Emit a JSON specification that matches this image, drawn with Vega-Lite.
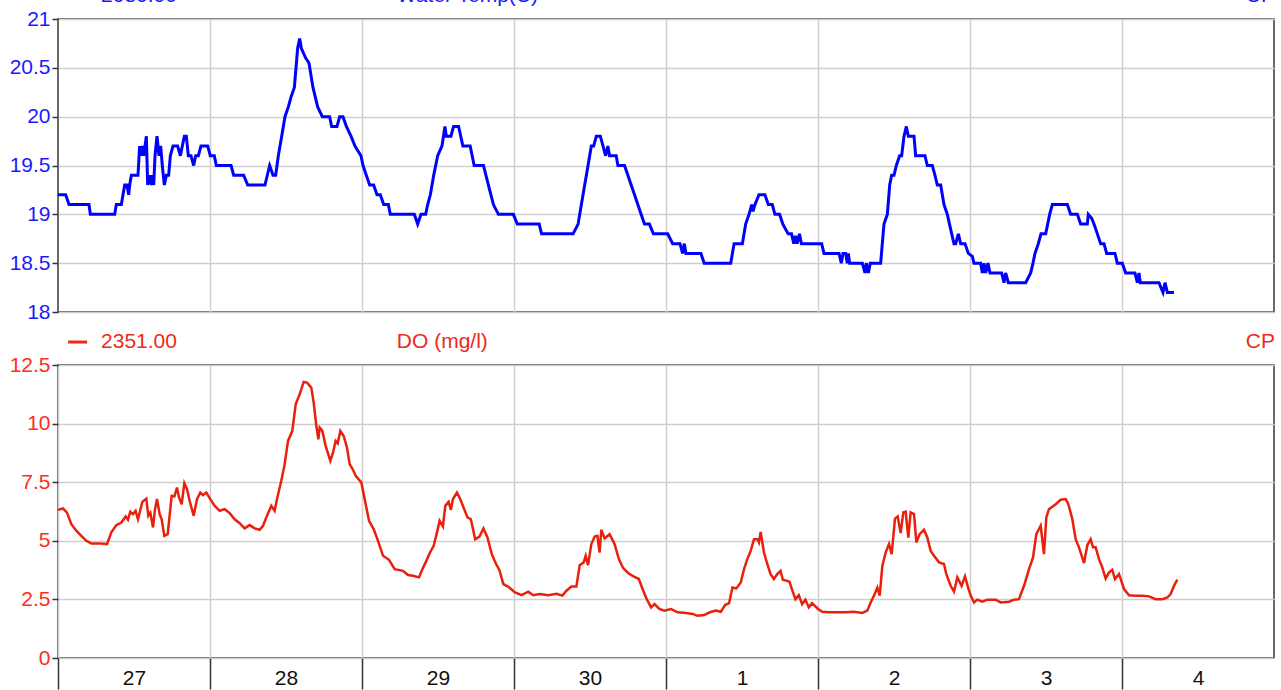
{
  "$schema": "https://vega.github.io/schema/vega-lite/v6.json",
  "padding": {"left": 8, "top": -16, "right": 4, "bottom": 0},
  "bounds": "flush",
  "spacing": 53,
  "background": "white",
  "config": {
    "view": {"stroke": "#3a3a3a", "strokeWidth": 1.5},
    "font": "Liberation Sans",
    "axis": {"labelFont": "Liberation Sans", "labelFontSize": 21, "gridColor": "#cfcfcf", "gridWidth": 1.5, "tickColor": "#333333", "tickWidth": 1.5, "domain": false, "title": null}
  },
  "datasets": {
    "temp": [
      {"hour":0,"value":19.2},{"hour":1.21,"value":19.2},{"hour":1.74,"value":19.1},{"hour":4.89,"value":19.1},{"hour":5.11,"value":19.0},{"hour":8.95,"value":19.0},{"hour":9.21,"value":19.1},{"hour":10.0,"value":19.1},{"hour":10.53,"value":19.3},{"hour":10.89,"value":19.3},{"hour":11.16,"value":19.2},{"hour":11.32,"value":19.3},{"hour":11.58,"value":19.4},{"hour":12.63,"value":19.4},{"hour":12.89,"value":19.7},{"hour":13.11,"value":19.6},{"hour":13.32,"value":19.7},{"hour":13.53,"value":19.6},{"hour":13.95,"value":19.8},{"hour":14.16,"value":19.3},{"hour":14.42,"value":19.4},{"hour":14.74,"value":19.3},{"hour":14.89,"value":19.4},{"hour":15.11,"value":19.3},{"hour":15.32,"value":19.6},{"hour":15.63,"value":19.8},{"hour":15.95,"value":19.6},{"hour":16.21,"value":19.7},{"hour":16.47,"value":19.5},{"hour":16.79,"value":19.3},{"hour":17.11,"value":19.4},{"hour":17.47,"value":19.4},{"hour":17.74,"value":19.6},{"hour":18.16,"value":19.7},{"hour":18.89,"value":19.7},{"hour":19.32,"value":19.6},{"hour":19.63,"value":19.7},{"hour":19.95,"value":19.8},{"hour":20.26,"value":19.8},{"hour":20.58,"value":19.6},{"hour":21.0,"value":19.6},{"hour":21.42,"value":19.5},{"hour":21.74,"value":19.6},{"hour":22.16,"value":19.6},{"hour":22.58,"value":19.7},{"hour":23.63,"value":19.7},{"hour":24.05,"value":19.6},{"hour":24.68,"value":19.6},{"hour":25.0,"value":19.5},{"hour":27.32,"value":19.5},{"hour":27.74,"value":19.4},{"hour":29.32,"value":19.4},{"hour":29.95,"value":19.3},{"hour":32.68,"value":19.3},{"hour":33.42,"value":19.5},{"hour":33.95,"value":19.4},{"hour":34.37,"value":19.4},{"hour":34.79,"value":19.6},{"hour":35.32,"value":19.8},{"hour":35.84,"value":20.0},{"hour":36.37,"value":20.1},{"hour":36.79,"value":20.2},{"hour":37.32,"value":20.3},{"hour":37.84,"value":20.7},{"hour":38.16,"value":20.8},{"hour":38.42,"value":20.7},{"hour":39.11,"value":20.6},{"hour":39.63,"value":20.55},{"hour":40.26,"value":20.3},{"hour":41.0,"value":20.1},{"hour":41.74,"value":20.0},{"hour":42.89,"value":20.0},{"hour":43.21,"value":19.9},{"hour":44.05,"value":19.9},{"hour":44.47,"value":20.0},{"hour":45.0,"value":20.0},{"hour":45.53,"value":19.9},{"hour":46.26,"value":19.8},{"hour":46.89,"value":19.7},{"hour":47.84,"value":19.6},{"hour":48.16,"value":19.5},{"hour":48.68,"value":19.4},{"hour":49.21,"value":19.3},{"hour":49.84,"value":19.3},{"hour":50.37,"value":19.2},{"hour":50.89,"value":19.2},{"hour":51.42,"value":19.1},{"hour":52.16,"value":19.1},{"hour":52.47,"value":19.0},{"hour":56.26,"value":19.0},{"hour":56.79,"value":18.9},{"hour":57.32,"value":19.0},{"hour":58.05,"value":19.0},{"hour":58.37,"value":19.1},{"hour":58.79,"value":19.2},{"hour":59.32,"value":19.4},{"hour":59.95,"value":19.6},
      {"hour":60.63,"value":19.7},{"hour":61.1,"value":19.9},{"hour":61.31,"value":19.8},{"hour":62.04,"value":19.8},{"hour":62.46,"value":19.9},{"hour":63.25,"value":19.9},{"hour":63.93,"value":19.7},{"hour":65.08,"value":19.7},{"hour":65.71,"value":19.5},{"hour":67.18,"value":19.5},{"hour":67.96,"value":19.3},{"hour":68.75,"value":19.1},{"hour":69.54,"value":19.0},{"hour":71.9,"value":19.0},{"hour":72.52,"value":18.9},{"hour":75.98,"value":18.9},{"hour":76.35,"value":18.8},{"hour":81.33,"value":18.8},{"hour":82.12,"value":18.9},{"hour":82.64,"value":19.1},{"hour":83.16,"value":19.3},{"hour":83.69,"value":19.5},{"hour":84.21,"value":19.7},{"hour":84.58,"value":19.7},{"hour":85.0,"value":19.8},{"hour":85.63,"value":19.8},{"hour":86.05,"value":19.7},{"hour":86.47,"value":19.6},{"hour":86.83,"value":19.7},{"hour":87.09,"value":19.6},{"hour":88.14,"value":19.6},{"hour":88.4,"value":19.5},{"hour":89.45,"value":19.5},{"hour":89.98,"value":19.4},{"hour":90.5,"value":19.3},{"hour":91.03,"value":19.2},{"hour":91.55,"value":19.1},{"hour":92.07,"value":19.0},{"hour":92.6,"value":18.9},{"hour":93.38,"value":18.9},{"hour":94.01,"value":18.8},{"hour":96.27,"value":18.8},{"hour":97.05,"value":18.7},{"hour":98.21,"value":18.7},{"hour":98.62,"value":18.6},{"hour":98.89,"value":18.7},{"hour":99.15,"value":18.6},{"hour":101.51,"value":18.6},{"hour":102.03,"value":18.5},{"hour":106.22,"value":18.5},{"hour":106.75,"value":18.7},{"hour":108.06,"value":18.7},{"hour":108.58,"value":18.9},{"hour":109.11,"value":19.0},{"hour":109.53,"value":19.1},{"hour":109.74,"value":19.03},{"hour":110.05,"value":19.1},{"hour":110.68,"value":19.2},{"hour":111.62,"value":19.2},{"hour":112.15,"value":19.1},{"hour":112.78,"value":19.1},{"hour":113.2,"value":19.0},{"hour":113.93,"value":19.0},{"hour":114.45,"value":18.9},{"hour":115.29,"value":18.8},{"hour":115.82,"value":18.8},{"hour":116.18,"value":18.7},{"hour":116.44,"value":18.78},{"hour":116.71,"value":18.7},{"hour":117.07,"value":18.8},{"hour":117.39,"value":18.7},{"hour":120.11,"value":18.7},
      {"hour":120.58,"value":18.7},{"hour":120.95,"value":18.6},{"hour":123.32,"value":18.6},{"hour":123.68,"value":18.5},{"hour":123.95,"value":18.6},{"hour":124.37,"value":18.6},{"hour":124.63,"value":18.5},{"hour":124.79,"value":18.6},{"hour":125.0,"value":18.5},{"hour":127.0,"value":18.5},{"hour":127.42,"value":18.4},{"hour":127.63,"value":18.5},{"hour":127.95,"value":18.4},{"hour":128.26,"value":18.5},{"hour":129.89,"value":18.5},{"hour":130.42,"value":18.9},{"hour":130.95,"value":19.0},{"hour":131.32,"value":19.3},{"hour":131.63,"value":19.4},{"hour":132.0,"value":19.4},{"hour":132.37,"value":19.5},{"hour":132.89,"value":19.6},{"hour":133.21,"value":19.6},{"hour":133.58,"value":19.8},{"hour":133.95,"value":19.9},{"hour":134.26,"value":19.8},{"hour":135.16,"value":19.8},{"hour":135.42,"value":19.6},{"hour":136.89,"value":19.6},{"hour":137.26,"value":19.5},{"hour":138.05,"value":19.5},{"hour":138.47,"value":19.4},{"hour":138.84,"value":19.3},{"hour":139.37,"value":19.3},{"hour":139.89,"value":19.1},{"hour":140.42,"value":19.0},{"hour":141.11,"value":18.8},{"hour":141.47,"value":18.7},{"hour":141.74,"value":18.7},{"hour":142.16,"value":18.8},{"hour":142.53,"value":18.7},{"hour":143.21,"value":18.7},{"hour":143.74,"value":18.6},{"hour":144.37,"value":18.57},{"hour":144.63,"value":18.5},{"hour":145.68,"value":18.5},{"hour":145.95,"value":18.4},{"hour":146.21,"value":18.5},{"hour":146.47,"value":18.4},{"hour":146.84,"value":18.5},{"hour":147.16,"value":18.4},{"hour":149.0,"value":18.4},{"hour":149.37,"value":18.3},{"hour":149.63,"value":18.4},{"hour":150.05,"value":18.3},{"hour":152.79,"value":18.3},{"hour":153.58,"value":18.4},{"hour":153.95,"value":18.5},{"hour":154.26,"value":18.6},{"hour":154.79,"value":18.7},{"hour":155.21,"value":18.8},{"hour":155.95,"value":18.8},{"hour":156.58,"value":19.0},{"hour":157.0,"value":19.1},{"hour":159.37,"value":19.1},{"hour":159.89,"value":19.0},{"hour":160.95,"value":19.0},{"hour":161.47,"value":18.9},{"hour":162.53,"value":18.9},{"hour":162.68,"value":19.0},{"hour":163.21,"value":18.96},{"hour":163.58,"value":18.9},{"hour":164.11,"value":18.8},{"hour":164.63,"value":18.7},{"hour":165.16,"value":18.7},{"hour":165.58,"value":18.6},{"hour":166.89,"value":18.6},{"hour":167.26,"value":18.5},{"hour":168.05,"value":18.5},{"hour":168.58,"value":18.4},{"hour":170.05,"value":18.4},{"hour":170.42,"value":18.3},{"hour":170.68,"value":18.4},{"hour":170.89,"value":18.3},{"hour":173.84,"value":18.3},{"hour":174.47,"value":18.2},{"hour":174.79,"value":18.3},{"hour":175.16,"value":18.2},{"hour":176.21,"value":18.2}
    ],
    "do": [
      {"hour":0,"value":6.32},{"hour":0.79,"value":6.38},{"hour":1.42,"value":6.2},{"hour":2.11,"value":5.71},{"hour":2.89,"value":5.43},{"hour":3.68,"value":5.21},{"hour":4.47,"value":5.0},{"hour":5.26,"value":4.89},{"hour":6.58,"value":4.89},{"hour":7.74,"value":4.86},{"hour":8.42,"value":5.36},{"hour":9.21,"value":5.67},{"hour":10.0,"value":5.78},{"hour":10.68,"value":6.04},{"hour":11.05,"value":5.9},{"hour":11.42,"value":6.24},{"hour":11.84,"value":6.14},{"hour":12.26,"value":6.28},{"hour":12.63,"value":5.92},{"hour":13.32,"value":6.66},{"hour":13.95,"value":6.8},{"hour":14.26,"value":6.07},{"hour":14.58,"value":6.2},{"hour":15.0,"value":5.57},{"hour":15.32,"value":6.35},{"hour":15.63,"value":6.78},{"hour":16.05,"value":6.14},{"hour":16.37,"value":5.92},{"hour":16.79,"value":5.21},{"hour":17.32,"value":5.28},{"hour":17.95,"value":6.92},{"hour":18.37,"value":6.89},{"hour":18.79,"value":7.27},{"hour":19.11,"value":6.85},{"hour":19.53,"value":6.56},{"hour":19.95,"value":7.46},{"hour":20.37,"value":7.2},{"hour":20.79,"value":6.7},{"hour":21.42,"value":6.07},{"hour":21.95,"value":6.78},{"hour":22.47,"value":7.06},{"hour":22.89,"value":6.95},{"hour":23.42,"value":7.06},{"hour":24.05,"value":6.78},{"hour":24.74,"value":6.49},{"hour":25.53,"value":6.28},{"hour":26.32,"value":6.35},{"hour":27.11,"value":6.18},{"hour":27.89,"value":5.92},{"hour":28.68,"value":5.75},{"hour":29.47,"value":5.53},{"hour":30.26,"value":5.67},{"hour":31.05,"value":5.53},{"hour":31.84,"value":5.47},{"hour":32.37,"value":5.64},{"hour":32.89,"value":6.0},{"hour":33.68,"value":6.49},{"hour":34.21,"value":6.28},{"hour":34.58,"value":6.78},{"hour":35.26,"value":7.56},{"hour":35.79,"value":8.27},{"hour":36.32,"value":9.26},{"hour":37.0,"value":9.69},{"hour":37.53,"value":10.82},{"hour":38.16,"value":11.25},{"hour":38.79,"value":11.78},{"hour":39.32,"value":11.75},{"hour":40.0,"value":11.53},{"hour":40.37,"value":10.9},{"hour":40.79,"value":9.9},{"hour":41.11,"value":9.33},{"hour":41.32,"value":9.83},{"hour":41.74,"value":9.69},{"hour":42.26,"value":9.05},{"hour":43.0,"value":8.41},{"hour":43.42,"value":8.76},{"hour":43.84,"value":9.26},{"hour":44.16,"value":9.16},{"hour":44.58,"value":9.69},{"hour":45.11,"value":9.47},{"hour":45.63,"value":8.98},{"hour":46.05,"value":8.27},{"hour":46.58,"value":8.03},{"hour":47.0,"value":7.77},{"hour":47.89,"value":7.49},{"hour":48.42,"value":6.78},{"hour":49.11,"value":5.85},{"hour":49.84,"value":5.5},{"hour":50.53,"value":5.0},{"hour":51.32,"value":4.36},{"hour":52.26,"value":4.19},{"hour":53.16,"value":3.79},{"hour":54.47,"value":3.72},{"hour":55.26,"value":3.54},{"hour":56.05,"value":3.51},{"hour":57.0,"value":3.44},{"hour":57.53,"value":3.79},{"hour":58.05,"value":4.08},{"hour":58.68,"value":4.47},{"hour":59.32,"value":4.79},{"hour":59.84,"value":5.36},{"hour":60.26,"value":5.85},
      {"hour":60.78,"value":5.61},{"hour":61.15,"value":6.49},{"hour":61.67,"value":6.66},{"hour":62.04,"value":6.32},{"hour":62.36,"value":6.78},{"hour":62.99,"value":7.06},{"hour":63.51,"value":6.78},{"hour":64.03,"value":6.42},{"hour":64.66,"value":6.0},{"hour":65.19,"value":5.92},{"hour":65.87,"value":5.07},{"hour":66.55,"value":5.18},{"hour":67.18,"value":5.53},{"hour":67.81,"value":5.14},{"hour":68.49,"value":4.43},{"hour":69.17,"value":4.01},{"hour":69.69,"value":3.76},{"hour":70.32,"value":3.15},{"hour":71.27,"value":3.01},{"hour":72.16,"value":2.8},{"hour":73.21,"value":2.68},{"hour":74.25,"value":2.83},{"hour":75.04,"value":2.68},{"hour":76.09,"value":2.73},{"hour":77.4,"value":2.68},{"hour":78.71,"value":2.74},{"hour":79.65,"value":2.66},{"hour":80.28,"value":2.87},{"hour":81.07,"value":3.05},{"hour":81.85,"value":3.05},{"hour":82.38,"value":3.96},{"hour":83.01,"value":4.08},{"hour":83.32,"value":4.36},{"hour":83.69,"value":3.96},{"hour":84.21,"value":4.86},{"hour":84.74,"value":5.18},{"hour":85.16,"value":5.21},{"hour":85.52,"value":4.5},{"hour":85.78,"value":5.47},{"hour":86.31,"value":5.1},{"hour":87.09,"value":5.28},{"hour":87.88,"value":4.86},{"hour":88.56,"value":4.22},{"hour":89.19,"value":3.86},{"hour":89.82,"value":3.68},{"hour":90.24,"value":3.58},{"hour":90.87,"value":3.48},{"hour":91.71,"value":3.37},{"hour":92.34,"value":2.91},{"hour":92.96,"value":2.51},{"hour":93.65,"value":2.16},{"hour":94.17,"value":2.3},{"hour":94.96,"value":2.09},{"hour":95.74,"value":2.02},{"hour":96.79,"value":2.09},{"hour":97.84,"value":1.95},{"hour":99.15,"value":1.92},{"hour":100.2,"value":1.88},{"hour":100.98,"value":1.8},{"hour":102.03,"value":1.83},{"hour":102.92,"value":1.95},{"hour":103.87,"value":2.02},{"hour":104.65,"value":1.97},{"hour":105.33,"value":2.26},{"hour":105.96,"value":2.34},{"hour":106.49,"value":3.01},{"hour":107.11,"value":2.97},{"hour":107.8,"value":3.22},{"hour":108.32,"value":3.79},{"hour":108.84,"value":4.22},{"hour":109.37,"value":4.57},{"hour":109.89,"value":5.07},{"hour":110.42,"value":5.07},{"hour":110.68,"value":4.93},{"hour":110.94,"value":5.38},{"hour":111.47,"value":4.5},{"hour":111.99,"value":4.01},{"hour":112.51,"value":3.58},{"hour":113.04,"value":3.37},{"hour":113.56,"value":3.58},{"hour":114.09,"value":3.72},{"hour":114.45,"value":3.34},{"hour":114.98,"value":3.3},{"hour":115.5,"value":3.25},{"hour":115.92,"value":2.91},{"hour":116.44,"value":2.51},{"hour":116.97,"value":2.68},{"hour":117.49,"value":2.3},{"hour":118.02,"value":2.49},{"hour":118.54,"value":2.16},{"hour":119.06,"value":2.34},{"hour":120.01,"value":2.09},
      {"hour":120.68,"value":1.97},{"hour":121.74,"value":1.95},{"hour":123.32,"value":1.95},{"hour":124.37,"value":1.95},{"hour":125.68,"value":1.97},{"hour":127.0,"value":1.92},{"hour":127.79,"value":2.02},{"hour":128.32,"value":2.37},{"hour":128.84,"value":2.66},{"hour":129.37,"value":3.01},{"hour":129.74,"value":2.66},{"hour":130.16,"value":3.93},{"hour":130.68,"value":4.5},{"hour":131.21,"value":4.86},{"hour":131.63,"value":4.43},{"hour":132.16,"value":5.95},{"hour":132.58,"value":6.04},{"hour":133.05,"value":5.33},{"hour":133.47,"value":6.21},{"hour":133.84,"value":6.24},{"hour":134.26,"value":5.14},{"hour":134.63,"value":6.21},{"hour":135.16,"value":6.14},{"hour":135.53,"value":4.93},{"hour":136.05,"value":5.28},{"hour":136.74,"value":5.47},{"hour":137.26,"value":5.14},{"hour":137.79,"value":4.57},{"hour":138.32,"value":4.36},{"hour":139.11,"value":4.08},{"hour":139.89,"value":4.01},{"hour":140.26,"value":3.58},{"hour":140.95,"value":3.08},{"hour":141.47,"value":2.83},{"hour":142.0,"value":3.44},{"hour":142.68,"value":3.08},{"hour":143.21,"value":3.48},{"hour":143.74,"value":2.97},{"hour":144.11,"value":2.66},{"hour":144.63,"value":2.37},{"hour":145.16,"value":2.49},{"hour":145.95,"value":2.4},{"hour":146.74,"value":2.49},{"hour":148.05,"value":2.49},{"hour":148.84,"value":2.37},{"hour":150.16,"value":2.4},{"hour":150.95,"value":2.49},{"hour":151.74,"value":2.51},{"hour":152.53,"value":3.08},{"hour":153.32,"value":3.79},{"hour":153.95,"value":4.29},{"hour":154.47,"value":5.28},{"hour":155.16,"value":5.64},{"hour":155.68,"value":4.43},{"hour":156.05,"value":6.0},{"hour":156.47,"value":6.35},{"hour":157.53,"value":6.56},{"hour":158.32,"value":6.75},{"hour":159.11,"value":6.78},{"hour":159.53,"value":6.56},{"hour":160.16,"value":5.92},{"hour":160.68,"value":5.07},{"hour":161.21,"value":4.72},{"hour":162.0,"value":4.05},{"hour":162.53,"value":4.82},{"hour":163.05,"value":5.07},{"hour":163.42,"value":4.72},{"hour":163.84,"value":4.72},{"hour":164.37,"value":4.22},{"hour":164.89,"value":3.86},{"hour":165.42,"value":3.39},{"hour":165.95,"value":3.65},{"hour":166.47,"value":3.76},{"hour":166.89,"value":3.37},{"hour":167.53,"value":3.58},{"hour":168.32,"value":2.94},{"hour":169.11,"value":2.68},{"hour":170.16,"value":2.66},{"hour":171.21,"value":2.66},{"hour":172.26,"value":2.63},{"hour":173.32,"value":2.51},{"hour":174.37,"value":2.51},{"hour":175.16,"value":2.58},{"hour":175.68,"value":2.73},{"hour":176.21,"value":3.08},{"hour":176.74,"value":3.34}
    ]
  },
  "vconcat": [
    {
      "width": 1216,
      "height": 293,
      "layer": [
        {
          "data": {"name": "temp"},
          "mark": {"type": "line", "color": "#0000ff", "strokeWidth": 3},
          "encoding": {
            "x": {"field": "hour", "type": "quantitative", "scale": {"domain": [0, 192], "nice": false, "zero": false},
                  "axis": {"values": [24, 48, 72, 96, 120, 144, 168], "labels": false, "ticks": false, "grid": true}},
            "y": {"field": "value", "type": "quantitative", "scale": {"domain": [18, 21], "nice": false, "zero": false},
                  "axis": {"values": [18, 18.5, 19, 19.5, 20, 20.5, 21], "format": ".1~f", "labelColor": "#1a1aff", "tickSize": 6, "labelPadding": 2, "grid": true}}
          }
        },
        {
          "data": {"values": [{}]},
          "mark": {"type": "rule", "color": "#1a1aff", "strokeWidth": 3},
          "encoding": {"x": {"datum": 1.6}, "x2": {"datum": 4.6}, "y": {"datum": 21.235}}
        },
        {
          "data": {"values": [{}]},
          "mark": {"type": "text", "text": "2080.00", "align": "left", "baseline": "middle", "fontSize": 21, "color": "#1a1aff"},
          "encoding": {"x": {"datum": 6.8}, "y": {"datum": 21.235}}
        },
        {
          "data": {"values": [{}]},
          "mark": {"type": "text", "text": "Water Temp(C)", "align": "left", "baseline": "middle", "fontSize": 21, "color": "#1a1aff"},
          "encoding": {"x": {"datum": 53.5}, "y": {"datum": 21.235}}
        },
        {
          "data": {"values": [{}]},
          "mark": {"type": "text", "text": "CP", "align": "right", "baseline": "middle", "fontSize": 21, "color": "#1a1aff", "dx": 1},
          "encoding": {"x": {"datum": 192}, "y": {"datum": 21.235}}
        }
      ]
    },
    {
      "width": 1216,
      "height": 293,
      "layer": [
        {
          "data": {"name": "do"},
          "mark": {"type": "line", "color": "#e8200c", "strokeWidth": 2.5},
          "encoding": {
            "x": {"field": "hour", "type": "quantitative", "scale": {"domain": [0, 192], "nice": false, "zero": false},
                  "axis": {"values": [0, 24, 48, 72, 96, 120, 144, 168], "grid": true, "tickSize": 31, "labelPadding": -22, "labelOffset": 76, "labelColor": "#111111", "labelAlign": "center",
                           "labelExpr": "['27','28','29','30','1','2','3','4'][round(datum.value/24)]"}},
            "y": {"field": "value", "type": "quantitative", "scale": {"domain": [0, 12.5], "nice": false, "zero": false},
                  "axis": {"values": [0, 2.5, 5, 7.5, 10, 12.5], "format": ".1~f", "labelColor": "#ff2d1a", "tickSize": 6, "labelPadding": 2, "grid": true}}
          }
        },
        {
          "data": {"values": [{}]},
          "mark": {"type": "rule", "color": "#ee2a18", "strokeWidth": 3},
          "encoding": {"x": {"datum": 1.6}, "x2": {"datum": 4.6}, "y": {"datum": 13.48}}
        },
        {
          "data": {"values": [{}]},
          "mark": {"type": "text", "text": "2351.00", "align": "left", "baseline": "middle", "fontSize": 21, "color": "#ee2a18"},
          "encoding": {"x": {"datum": 6.8}, "y": {"datum": 13.48}}
        },
        {
          "data": {"values": [{}]},
          "mark": {"type": "text", "text": "DO (mg/l)", "align": "left", "baseline": "middle", "fontSize": 21, "color": "#ee2a18"},
          "encoding": {"x": {"datum": 53.5}, "y": {"datum": 13.48}}
        },
        {
          "data": {"values": [{}]},
          "mark": {"type": "text", "text": "CP", "align": "right", "baseline": "middle", "fontSize": 21, "color": "#ee2a18", "dx": 1},
          "encoding": {"x": {"datum": 192}, "y": {"datum": 13.48}}
        }
      ]
    }
  ]
}
